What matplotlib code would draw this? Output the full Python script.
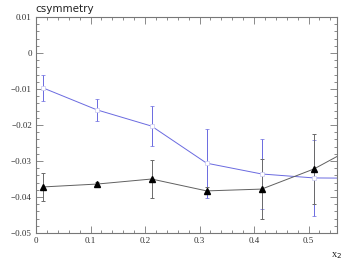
import numpy as np
import matplotlib
matplotlib.use("Agg")
import matplotlib.pyplot as plt
from matplotlib.ticker import MultipleLocator, FuncFormatter

# blue series (open markers)
x_blue = [0.013, 0.112, 0.212, 0.313, 0.414, 0.510, 0.610]
y_blue = [-0.0097, -0.0158, -0.0203, -0.0306, -0.0336, -0.0347, -0.0348]
e_blue = [0.0035, 0.0030, 0.0056, 0.0096, 0.0098, 0.0105, 0.0100]

# black series (triangles)
x_black = [0.013, 0.112, 0.212, 0.313, 0.414, 0.510, 0.610]
y_black = [-0.0372, -0.0364, -0.0350, -0.0383, -0.0378, -0.0322, -0.0240]
e_black = [0.0040, 0.0005, 0.0052, 0.0010, 0.0083, 0.0097, 0.0090]

fig = plt.figure(figsize=(3.54, 2.66), dpi=100)
ax = fig.add_axes([0.1017, 0.124, 0.850, 0.812])

blue = "#6a6ae0"
grey = "#606060"

ax.errorbar(x_blue, y_blue, yerr=e_blue, color=blue, lw=0.7, elinewidth=0.7,
            capsize=1.5, capthick=0.7, marker="s", ms=2.5, mfc="white", mec="#c8c8f0",
            mew=0.5)
ax.errorbar(x_black, y_black, yerr=e_black, color=grey, lw=0.7, elinewidth=0.7,
            ecolor="#6a6a6a", capsize=1.5, capthick=0.7, marker="^", ms=3.8,
            mfc="black", mec="black")

ax.set_xlim(0, 0.552)
ax.set_ylim(-0.05, 0.01)

ax.xaxis.set_major_locator(MultipleLocator(0.1))
ax.xaxis.set_minor_locator(MultipleLocator(0.02))
ax.yaxis.set_major_locator(MultipleLocator(0.01))
ax.yaxis.set_minor_locator(MultipleLocator(0.002))

ax.xaxis.set_major_formatter(FuncFormatter(lambda v, p: "0" if abs(v) < 1e-9 else "%.1f" % v))
ax.yaxis.set_major_formatter(FuncFormatter(lambda v, p: "0" if abs(v) < 1e-9 else ("%.2f" % v).replace("-", "\u2212")))

ax.tick_params(which="both", direction="in", top=True, right=True, color="#777777",
               labelsize=6.5, labelcolor="#333333", pad=3)
ax.tick_params(which="major", length=5, width=0.6)
ax.tick_params(which="minor", length=2.5, width=0.6)
for lab in ax.get_xticklabels() + ax.get_yticklabels():
    lab.set_family("Liberation Serif")

for s in ax.spines.values():
    s.set_color("#777777")
    s.set_linewidth(0.8)

fig.text(0.099, 0.965, "csymmetry", fontsize=7.5, color="#222222", ha="left", va="center")
fig.text(0.935, 0.04, "x$_2$", fontsize=7.5, color="#222222", ha="left", va="center",
         family="Liberation Serif")

fig.savefig("out.png", dpi=100)
